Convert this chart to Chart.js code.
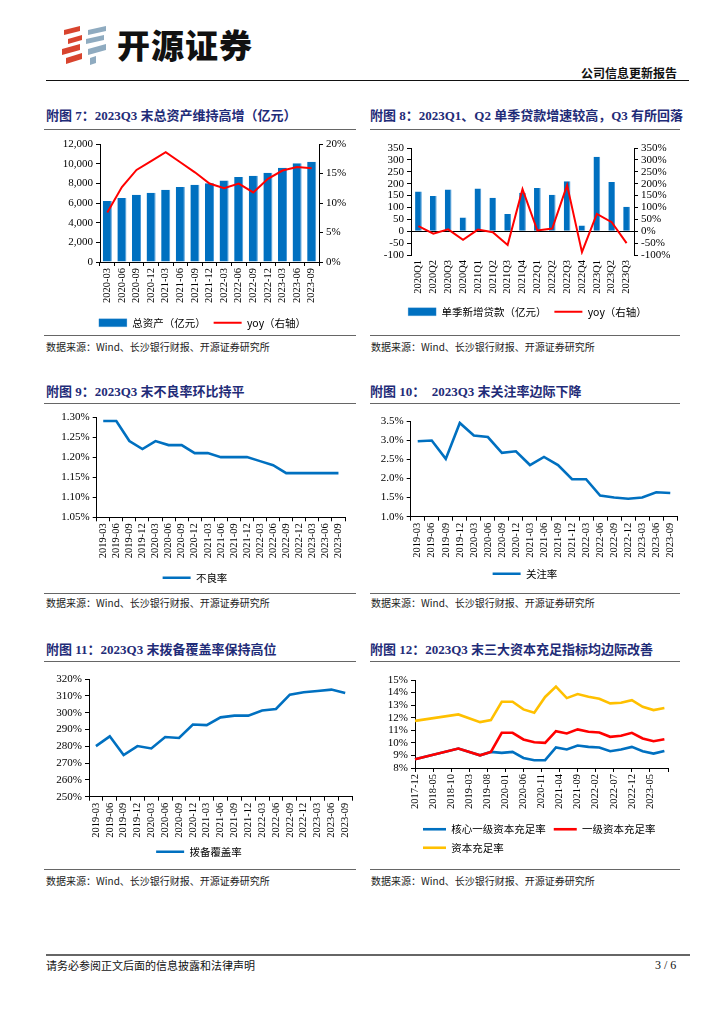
<!DOCTYPE html>
<html>
<head>
<meta charset="utf-8">
<script src="https://cdn.jsdelivr.net/npm/chart.js@4.4.0/dist/chart.umd.min.js"></script>
<style>
  body { margin: 0; width: 724px; height: 1024px; background: #fff; position: relative; overflow: hidden;
         font-family: "Liberation Serif", "Noto Sans CJK SC", serif; }
  canvas { position: absolute; }
  .title { position: absolute; font-weight: bold; font-size: 13px; line-height: 16px; color: #1f2c78; white-space: nowrap; }
  .rule { position: absolute; height: 0; border-top: 1.3px solid #666; }
  .src { position: absolute; font-size: 10px; line-height: 12px; color: #222; white-space: nowrap; font-family: "Noto Sans CJK SC", sans-serif; }
</style>
</head>
<body>
<!-- 页眉 -->
<svg class="logo" style="position:absolute;left:60px;top:25px" width="50" height="42">
  <polygon points="4,5 20,1 20,6 4,10" fill="#d8442e"/>
  <polygon points="8,14 22,10 22,15 8,19" fill="#d8442e"/>
  <polygon points="2,24 20,19 20,25 2,30" fill="#d8442e"/>
  <polygon points="6,33 22,28 22,34 6,39" fill="#d8442e"/>
  <polygon points="28,5 46,1 46,6 28,10" fill="#8fabc0"/>
  <polygon points="26,14 44,10 44,15 26,19" fill="#8fabc0"/>
  <polygon points="28,24 46,19 46,25 28,30" fill="#8fabc0"/>
  <polygon points="30,33 36,31 36,38 30,40" fill="#8fabc0"/>
</svg>
<div style="position:absolute;left:117px;top:24px;font-size:33px;font-weight:900;font-family:'Noto Sans CJK SC',sans-serif;color:#111;letter-spacing:1px;line-height:40px">开源证券</div>
<div style="position:absolute;left:581px;top:66px;font-size:12px;font-weight:bold;font-family:'Noto Sans CJK SC',sans-serif;color:#111;line-height:14px">公司信息更新报告</div>
<div style="position:absolute;left:46px;top:80px;width:643px;border-top:1.5px solid #111"></div>

<!-- 标题与来源 -->
<div class="title" style="left:46px;top:108px">附图 7：2023Q3 末总资产维持高增（亿元）</div>
<div class="title" style="left:370px;top:108px">附图 8：2023Q1、Q2 单季贷款增速较高，Q3 有所回落</div>
<div class="rule" style="left:44px;top:129px;width:312px"></div>
<div class="rule" style="left:370px;top:129px;width:310px"></div>
<div class="rule" style="left:44px;top:335px;width:312px"></div>
<div class="rule" style="left:370px;top:335px;width:310px"></div>
<div class="src" style="left:46px;top:341px">数据来源：Wind、长沙银行财报、开源证券研究所</div>
<div class="src" style="left:371px;top:341px">数据来源：Wind、长沙银行财报、开源证券研究所</div>

<div class="title" style="left:46px;top:384px">附图 9：2023Q3 末不良率环比持平</div>
<div class="title" style="left:370px;top:384px">附图 10：&nbsp; 2023Q3 末关注率边际下降</div>
<div class="rule" style="left:44px;top:403px;width:312px"></div>
<div class="rule" style="left:370px;top:403px;width:310px"></div>
<div class="rule" style="left:44px;top:593px;width:312px"></div>
<div class="rule" style="left:370px;top:593px;width:310px"></div>
<div class="src" style="left:46px;top:597px">数据来源：Wind、长沙银行财报、开源证券研究所</div>
<div class="src" style="left:371px;top:597px">数据来源：Wind、长沙银行财报、开源证券研究所</div>

<div class="title" style="left:46px;top:642px">附图 11：2023Q3 末拨备覆盖率保持高位</div>
<div class="title" style="left:370px;top:642px">附图 12：2023Q3 末三大资本充足指标均边际改善</div>
<div class="rule" style="left:44px;top:661px;width:312px"></div>
<div class="rule" style="left:370px;top:661px;width:310px"></div>
<div class="rule" style="left:44px;top:869px;width:312px"></div>
<div class="rule" style="left:370px;top:869px;width:310px"></div>
<div class="src" style="left:46px;top:875px">数据来源：Wind、长沙银行财报、开源证券研究所</div>
<div class="src" style="left:371px;top:875px">数据来源：Wind、长沙银行财报、开源证券研究所</div>

<canvas id="assetChart" width="315" height="205" style="left:45px;top:133px"></canvas>
<canvas id="loanChart" width="315" height="194" style="left:370px;top:133px"></canvas>
<canvas id="nplChart" width="315" height="187" style="left:45px;top:406px"></canvas>
<canvas id="smlChart" width="315" height="183" style="left:370px;top:406px"></canvas>
<canvas id="provChart" width="315" height="203" style="left:45px;top:664px"></canvas>
<canvas id="capChart" width="315" height="199" style="left:370px;top:664px"></canvas>

<!-- 页脚 -->
<div style="position:absolute;left:46px;top:954px;width:644px;border-top:2px solid #666"></div>
<div style="position:absolute;left:46px;top:959px;font-size:11px;line-height:13px;font-family:'Noto Sans CJK SC',sans-serif;color:#111">请务必参阅正文后面的信息披露和法律声明</div>
<div style="position:absolute;left:655px;top:958px;font-size:12px;line-height:14px;color:#111">3 / 6</div>

<script>
// 数据
const quarters20 = ["2020-03", "2020-06", "2020-09", "2020-12", "2021-03", "2021-06", "2021-09", "2021-12",
    "2022-03", "2022-06", "2022-09", "2022-12", "2023-03", "2023-06", "2023-09"];
const totalAssets = [6200, 6500, 6850, 7050, 7350, 7630, 7860, 8000, 8300, 8640, 8780, 9080, 9590, 10030, 10200];
const totalAssetsYoy = [8.4, 12.7, 15.6, 17.1, 18.6, 16.9, 15.2, 13.3, 12.5, 13.3, 11.8, 14.1, 15.5, 16.1, 15.9];

const seasons = ["2020Q1", "2020Q2", "2020Q3", "2020Q4", "2021Q1", "2021Q2", "2021Q3", "2021Q4",
    "2022Q1", "2022Q2", "2022Q3", "2022Q4", "2023Q1", "2023Q2", "2023Q3"];
const newLoans = [167, 148, 175, 58, 180, 141, 72, 162, 182, 153, 210, 24, 313, 207, 103];
const newLoansYoy = [21, -10, 8, -36, 7, -4, -58, 177, 3, 11, 194, -88, 73, 38, -50];

const quarters19 = ["2019-03", "2019-06", "2019-09", "2019-12", "2020-03", "2020-06", "2020-09", "2020-12",
    "2021-03", "2021-06", "2021-09", "2021-12", "2022-03", "2022-06", "2022-09", "2022-12",
    "2023-03", "2023-06", "2023-09"];
const nplRatio = [1.29, 1.29, 1.24, 1.22, 1.24, 1.23, 1.23, 1.21, 1.21, 1.20, 1.20, 1.20, 1.19, 1.18, 1.16, 1.16, 1.16, 1.16, 1.16];
const specialMention = [2.97, 2.99, 2.51, 3.45, 3.12, 3.08, 2.67, 2.71, 2.35, 2.56, 2.35, 1.98, 1.98, 1.55, 1.50, 1.47, 1.50, 1.64, 1.62];
const provisionCoverage = [280.1, 285.9, 274.8, 280.1, 278.7, 285.5, 284.9, 292.9, 292.6, 297.2, 298.2, 298.2,
    301.3, 302.2, 310.7, 312.1, 312.9, 313.7, 311.7];

const capitalDates = ["2017-12", "2018-12", "2019-06", "2019-09", "2019-12", "2020-03", "2020-06", "2020-09",
    "2020-12", "2021-03", "2021-06", "2021-09", "2021-12", "2022-03", "2022-06", "2022-09",
    "2022-12", "2023-03", "2023-06", "2023-09"];
const coreTier1 = [8.69, 9.55, 9.01, 9.28, 9.20, 9.28, 8.80, 8.62, 8.62, 9.63, 9.47, 9.79, 9.68, 9.63, 9.33, 9.47, 9.68, 9.33, 9.15, 9.36];
const tier1 = [8.69, 9.55, 9.01, 9.28, 10.80, 10.80, 10.27, 10.05, 10.00, 10.93, 10.75, 11.07, 10.88, 10.83, 10.48, 10.56, 10.80, 10.35, 10.13, 10.29];
const capitalAdequacy = [11.75, 12.26, 11.65, 11.81, 13.27, 13.27, 12.66, 12.39, 13.65, 14.47, 13.56, 13.88, 13.67, 13.51, 13.14, 13.19, 13.40, 12.87, 12.61, 12.77];

// 附图12 的月度时间轴：2017-12 至 2023-10，每 5 个月一个刻度
const axisStart = "2017-12";
const axisEnd = "2023-10";
function monthRange(from, to) {
    const out = [];
    let [y, m] = from.split("-").map(Number);
    const [ey, em] = to.split("-").map(Number);
    while (y < ey || (y === ey && m <= em)) {
        out.push(y + "-" + String(m).padStart(2, "0"));
        m++;
        if (m > 12) { m = 1; y++; }
    }
    return out;
}
const monthAxis = monthRange(axisStart, axisEnd);

const BLUE = "#0070c0";
const RED = "#ff0000";
const YELLOW = "#ffc000";

Chart.defaults.color = "#000";
Chart.defaults.font.family = '"Liberation Serif", "Noto Sans CJK SC", serif';
Chart.defaults.animation = false;

const legendFont = { family: '"Noto Sans CJK SC", sans-serif', size: 10.5 };

// 数值轴（左/右）
function valueAxis(position, width, min, max, step, fmt) {
    return {
        position: position,
        min: min,
        max: max,
        afterFit: s => { s.width = width; },
        border: { display: true, color: "#000" },
        grid: { drawOnChartArea: false, tickLength: 4, color: "#000" },
        ticks: { stepSize: step, autoSkip: false, font: { size: 11 }, padding: 3, callback: fmt },
    };
}

// 分类轴（竖排标签）
function catAxis(height) {
    return {
        afterFit: s => { s.height = height; },
        offset: true,
        border: { display: true, color: "#000" },
        grid: { offset: true, drawOnChartArea: false, tickLength: 4, color: "#000" },
        ticks: { autoSkip: false, minRotation: 90, maxRotation: 90, font: { size: 10.5 }, padding: 2 },
    };
}

function legendOpts(extra, styleWidth) {
    return Object.assign({
        position: "bottom",
        labels: {
            usePointStyle: true, pointStyleWidth: styleWidth || 28, boxHeight: 8, padding: 8,
            font: legendFont, color: "#000",
            sort: (a, b) => a.datasetIndex - b.datasetIndex,
        },
    }, extra || {});
}

document.addEventListener("DOMContentLoaded", function () {
    // 附图7 总资产
    new Chart(document.getElementById("assetChart"), {
        data: {
            labels: quarters20,
            datasets: [
                {
                    type: "bar", label: "总资产（亿元）", data: totalAssets, yAxisID: "y",
                    backgroundColor: BLUE, borderColor: "#4a9ad8", borderWidth: { right: 1 },
                    barPercentage: 0.62, categoryPercentage: 1, pointStyle: "rect", order: 1,
                },
                {
                    type: "line", label: "yoy（右轴）", data: totalAssetsYoy, yAxisID: "y1",
                    borderColor: RED, backgroundColor: RED, borderWidth: 2, pointRadius: 0,
                    pointStyle: "line", order: 0,
                },
            ],
        },
        options: {
            responsive: false,
            layout: { padding: { top: 11 } },
            plugins: { legend: legendOpts(), tooltip: { enabled: false } },
            scales: {
                x: catAxis(47.5),
                y: valueAxis("left", 55, 0, 12000, 2000, v => v.toLocaleString("en-US")),
                y1: valueAxis("right", 41, 0, 20, 5, v => v + "%"),
            },
        },
    });

    // 附图8 单季新增贷款
    const loanX = catAxis(43.5);
    loanX.border = { display: false };
    loanX.grid = { display: false, drawTicks: false };
    loanX.ticks.padding = 5;
    const loanY = valueAxis("left", 41, -100, 350, 50, v => v);
    loanY.grid = {
        drawOnChartArea: true, tickLength: 4, tickColor: "#000",
        color: c => (c.tick && c.tick.value === 0 ? "#000" : "rgba(0,0,0,0)"),
    };
    new Chart(document.getElementById("loanChart"), {
        data: {
            labels: seasons,
            datasets: [
                {
                    type: "bar", label: "单季新增贷款（亿元）", data: newLoans, yAxisID: "y",
                    backgroundColor: BLUE, borderColor: "#4a9ad8", borderWidth: { right: 1 },
                    barPercentage: 0.45, categoryPercentage: 1, pointStyle: "rect", order: 1,
                },
                {
                    type: "line", label: "yoy（右轴）", data: newLoansYoy, yAxisID: "y1",
                    borderColor: RED, backgroundColor: RED, borderWidth: 2, pointRadius: 0,
                    pointStyle: "line", order: 0,
                },
            ],
        },
        options: {
            responsive: false,
            layout: { padding: { top: 15 } },
            plugins: { legend: legendOpts(), tooltip: { enabled: false } },
            scales: {
                x: loanX,
                y: loanY,
                y1: valueAxis("right", 51, -100, 350, 50, v => v + "%"),
            },
        },
    });

    // 单线图（附图9、10、11）
    function singleLine(id, label, data, yAxis, xHeight, padding) {
        return new Chart(document.getElementById(id), {
            type: "line",
            data: {
                labels: quarters19,
                datasets: [{
                    label: label, data: data, borderColor: BLUE, backgroundColor: BLUE,
                    borderWidth: 2.6, pointRadius: 0, pointStyle: "line", tension: 0,
                }],
            },
            options: {
                responsive: false,
                layout: { padding: padding },
                plugins: { legend: legendOpts(), tooltip: { enabled: false } },
                scales: { x: catAxis(xHeight), y: yAxis },
            },
        });
    }

    singleLine("nplChart", "不良率", nplRatio,
        valueAxis("left", 51.7, 1.05, 1.30, 0.05, v => v.toFixed(2) + "%"), 47.2, { top: 11, right: 15 });
    singleLine("smlChart", "关注率", specialMention,
        valueAxis("left", 40.7, 1.0, 3.5, 0.5, v => v.toFixed(1) + "%"), 43.8, { top: 15, right: 5 });
    singleLine("provChart", "拨备覆盖率", provisionCoverage,
        valueAxis("left", 44, 250, 320, 10, v => v + "%"), 41.8, { top: 15, right: 7 });

    // 附图12 资本充足率
    const toPoints = arr => arr.map((v, i) => ({ x: capitalDates[i], y: v }));
    const capX = catAxis(48);
    capX.offset = false;
    capX.grid = {
        offset: false, drawOnChartArea: false, tickLength: 4, color: "#000",
        tickColor: c => (c.index % 5 === 0 ? "#000" : "rgba(0,0,0,0)"),
    };
    capX.ticks.callback = (v, i) => (i % 5 === 0 && i < monthAxis.length - 1 ? monthAxis[i] : "");
    new Chart(document.getElementById("capChart"), {
        type: "line",
        data: {
            labels: monthAxis,
            datasets: [
                { label: "核心一级资本充足率", data: toPoints(coreTier1), borderColor: BLUE, backgroundColor: BLUE, order: 2 },
                { label: "一级资本充足率", data: toPoints(tier1), borderColor: RED, backgroundColor: RED, order: 1 },
                { label: "资本充足率", data: toPoints(capitalAdequacy), borderColor: YELLOW, backgroundColor: YELLOW, order: 3 },
            ].map(d => Object.assign(d, { borderWidth: 2.6, pointRadius: 0, pointStyle: "line" })),
        },
        options: {
            responsive: false,
            layout: { padding: { top: 16, right: 17 } },
            plugins: {
                legend: legendOpts({ fullSize: false, align: "start" }, 23),
                tooltip: { enabled: false },
            },
            scales: {
                x: capX,
                y: valueAxis("left", 45, 8, 15, 1, v => v + "%"),
            },
        },
    });
});
</script>
</body>
</html>
